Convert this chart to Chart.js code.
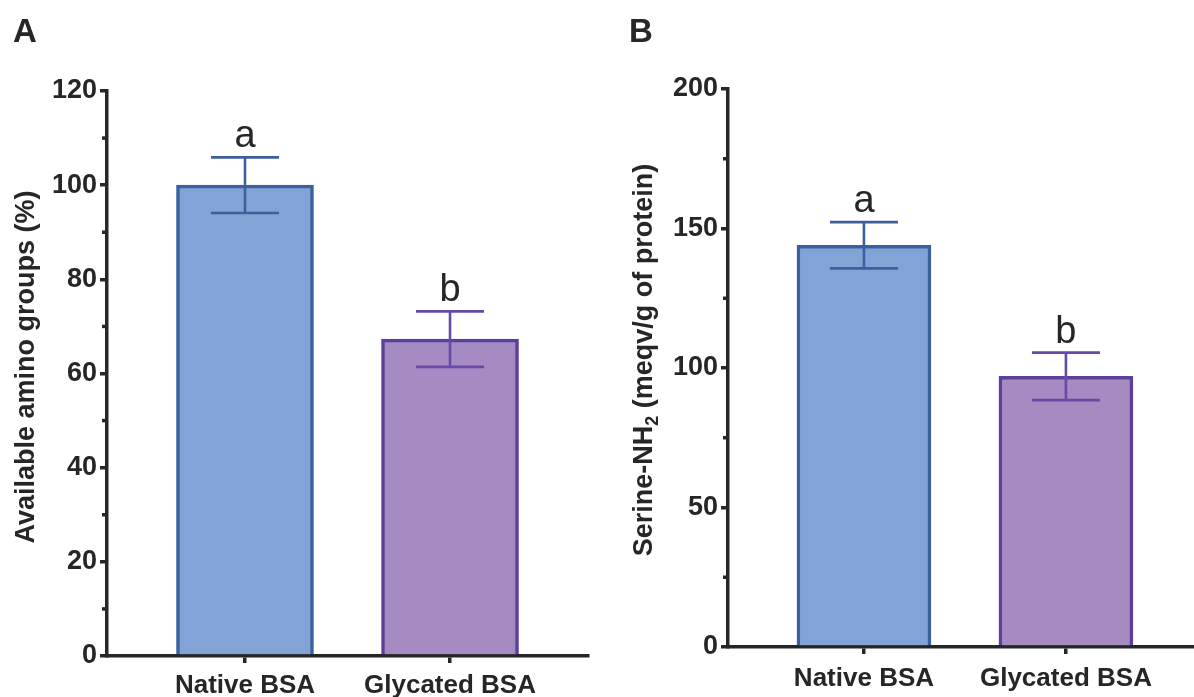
<!DOCTYPE html>
<html>
<head>
<meta charset="utf-8">
<script src="https://cdn.jsdelivr.net/npm/chart.js@4.4.1/dist/chart.umd.min.js"></script>
<style>
  html, body { margin: 0; padding: 0; background: #ffffff; }
  #wrap { position: relative; width: 1194px; height: 697px; overflow: hidden; }
  canvas { position: absolute; top: 0; }
  #panelA { left: 0; }
  #panelB { left: 600px; }
</style>
</head>
<body>
<div id="wrap">
  <canvas id="panelA" width="600" height="697"></canvas>
  <canvas id="panelB" width="594" height="697"></canvas>
</div>
<script>
// Groups compared in both panels
const categories = ['Native BSA', 'Glycated BSA'];

// Panel A: available amino groups (%), mean and error
const aminoMeans = [100, 67.3];
const aminoErrors = [5.9, 5.9];
const aminoLetters = ['a', 'b'];
const aminoTicks = [0, 20, 40, 60, 80, 100, 120];

// Panel B: Serine-NH2 (meqv/g of protein), mean and error
const serineMeans = [144, 97];
const serineErrors = [8.3, 8.5];
const serineLetters = ['a', 'b'];
const serineTicks = [0, 50, 100, 150, 200];

const INK = '#262626';
const FONT = '"Liberation Sans", Arial, Helvetica, sans-serif';
const fills = ['#81a3d6', '#a68bc3'];
const edges = ['#3c5f9e', '#5b3f98'];
const whiskers = ['#3e5f9d', '#654aa6'];

// Error bars, significance letters, minor ticks, axis title and panel letter
const extras = {
  id: 'extras',
  afterDatasetsDraw(chart, args, o) {
    const ctx = chart.ctx, xs = chart.scales.x, ys = chart.scales.y;
    ctx.save();
    o.means.forEach((m, i) => {
      const px = xs.getPixelForValue(i + 1);
      const top = ys.getPixelForValue(m + o.errors[i]);
      const bot = ys.getPixelForValue(m - o.errors[i]);
      ctx.strokeStyle = whiskers[i];
      ctx.lineWidth = 2.6;
      ctx.beginPath();
      ctx.moveTo(px, top); ctx.lineTo(px, bot);
      ctx.moveTo(px - 34, top); ctx.lineTo(px + 34, top);
      ctx.moveTo(px - 34, bot); ctx.lineTo(px + 34, bot);
      ctx.stroke();
      ctx.fillStyle = INK;
      ctx.font = '38px ' + FONT;
      ctx.textAlign = 'center';
      ctx.textBaseline = 'alphabetic';
      ctx.fillText(o.letters[i], px, top - 10);
    });
    ctx.restore();
  },
  afterDraw(chart, args, o) {
    const ctx = chart.ctx, ys = chart.scales.y;
    const left = chart.chartArea.left;
    ctx.save();
    // minor ticks halfway between labelled ticks
    ctx.strokeStyle = INK;
    ctx.lineWidth = 3.5;
    const t = o.ticks;
    for (let i = 0; i < t.length - 1; i++) {
      const py = ys.getPixelForValue((t[i] + t[i + 1]) / 2);
      ctx.beginPath();
      ctx.moveTo(left - 5, py); ctx.lineTo(left, py);
      ctx.stroke();
    }
    // panel letter
    ctx.fillStyle = INK;
    ctx.font = 'bold 33px ' + FONT;
    ctx.textAlign = 'left';
    ctx.textBaseline = 'alphabetic';
    ctx.fillText(o.panel, o.panelX, 42);
    // rotated y axis title, optionally with a subscript part
    ctx.translate(o.titleX, o.titleY);
    ctx.rotate(-Math.PI / 2);
    const big = 'bold 27px ' + FONT, small = 'bold 18px ' + FONT;
    const parts = o.title;
    let total = 0;
    parts.forEach(p => { ctx.font = p.sub ? small : big; total += ctx.measureText(p.text).width; });
    let x = -total / 2;
    parts.forEach(p => {
      ctx.font = p.sub ? small : big;
      ctx.fillText(p.text, x, p.sub ? 6 : 0);
      x += ctx.measureText(p.text).width;
    });
    ctx.restore();
  }
};

function buildPanel(id, means, errors, letters, ticks, geom) {
  return new Chart(document.getElementById(id), {
    type: 'bar',
    data: {
      datasets: [{
        data: means.map((v, i) => ({ x: i + 1, y: v })),
        backgroundColor: fills,
        borderColor: edges,
        borderWidth: 3.5,
        borderSkipped: 'start',
        barThickness: geom.barWidth
      }]
    },
    options: {
      responsive: false,
      animation: false,
      devicePixelRatio: 1,
      layout: { padding: { top: geom.top, right: geom.right, left: 0, bottom: 0 } },
      plugins: {
        legend: { display: false },
        tooltip: { enabled: false },
        extras: {
          means, errors, letters, ticks,
          panel: geom.panel, panelX: geom.panelX,
          title: geom.title, titleX: geom.titleX, titleY: geom.titleY
        }
      },
      scales: {
        x: {
          type: 'linear',
          z: 1,
          offset: false,
          bounds: 'data',
          min: geom.xMin,
          max: geom.xMax,
          afterBuildTicks: s => { s.ticks = categories.map((c, i) => ({ value: i + 1 })); },
          afterFit: s => { s.height = geom.xHeight; },
          ticks: {
            autoSkip: false,
            maxRotation: 0,
            padding: geom.xPad,
            color: INK,
            font: { family: FONT, size: 26, weight: 'bold' },
            callback: v => categories[v - 1]
          },
          grid: { display: true, offset: false, drawOnChartArea: false, drawTicks: true, tickLength: 7, lineWidth: 3.5, color: INK },
          border: { display: true, width: 3.5, color: INK }
        },
        y: {
          z: 1,
          min: ticks[0],
          max: ticks[ticks.length - 1],
          afterBuildTicks: s => { s.ticks = ticks.map(v => ({ value: v })); },
          afterFit: s => { s.width = geom.yWidth; },
          ticks: {
            padding: 3,
            color: INK,
            font: { family: FONT, size: 27, weight: 'bold' }
          },
          grid: { display: true, drawOnChartArea: false, drawTicks: true, tickLength: 7, lineWidth: 3.5, color: INK },
          border: { display: true, width: 3.5, color: INK }
        }
      }
    },
    plugins: [extras]
  });
}

buildPanel('panelA', aminoMeans, aminoErrors, aminoLetters, aminoTicks, {
  top: 91, right: 12, xHeight: 41, yWidth: 107, barWidth: 137, xPad: 7,
  xMin: 0.327, xMax: 2.673,
  panel: 'A', panelX: 13,
  title: [{ text: 'Available amino groups (%)' }], titleX: 34, titleY: 367
});

buildPanel('panelB', serineMeans, serineErrors, serineLetters, serineTicks, {
  top: 89, right: 0, xHeight: 50, yWidth: 128, barWidth: 134, xPad: 9,
  xMin: 0.327, xMax: 2.634,
  panel: 'B', panelX: 29,
  title: [{ text: 'Serine-NH' }, { text: '2', sub: true }, { text: ' (meqv/g of protein)' }],
  titleX: 52, titleY: 360
});
</script>
</body>
</html>
